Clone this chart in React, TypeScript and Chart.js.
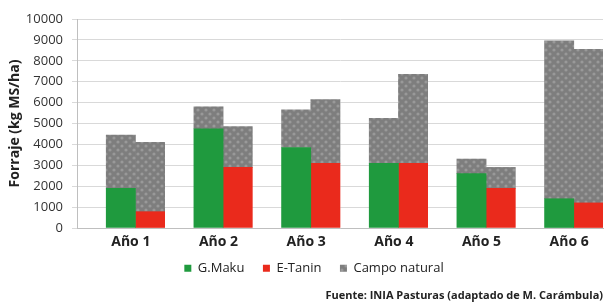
import React, { useEffect, useRef } from "react";
import { Chart, registerables } from "chart.js";

Chart.register(...registerables);

const categories = ["Año 1", "Año 2", "Año 3", "Año 4", "Año 5", "Año 6"];
const gMaku = [1900, 4750, 3850, 3100, 2600, 1400];
const gMakuTotal = [4450, 5800, 5650, 5250, 3300, 8950];
const eTanin = [780, 2900, 3100, 3100, 1900, 1200];
const eTaninTotal = [4100, 4850, 6150, 7350, 2900, 8550];
const campoA = gMakuTotal.map((t, i) => t - gMaku[i]);
const campoB = eTaninTotal.map((t, i) => t - eTanin[i]);
const emptySlot = [0, 0, 0, 0, 0, 0];
const yTicks = [0, 1000, 2000, 3000, 4000, 5000, 6000, 7000, 8000, 9000, 10000];

function makePattern(): CanvasPattern | string {
  const c = document.createElement("canvas");
  c.width = 8;
  c.height = 8;
  const ctx = c.getContext("2d");
  if (!ctx) return "#808080";
  ctx.fillStyle = "#7e7e7e";
  ctx.fillRect(0, 0, 8, 8);
  ctx.fillStyle = "#999999";
  ctx.beginPath();
  ctx.arc(2, 2, 1.6, 0, Math.PI * 2);
  ctx.fill();
  ctx.beginPath();
  ctx.arc(6, 6, 1.6, 0, Math.PI * 2);
  ctx.fill();
  const p = ctx.createPattern(c, "repeat");
  return p || "#808080";
}

const legendShift = {
  id: "legendShift",
  afterLayout(chart: any) {
    const lg = chart.legend;
    if (lg) {
      lg.left += 9;
      lg.right += 9;
    }
  },
};

export default function App() {
  const ref = useRef<HTMLCanvasElement>(null);
  useEffect(() => {
    document.body.style.margin = "0";
    if (!ref.current) return;
    const pattern = makePattern();
    const green = "#1f9a3e";
    const red = "#ea2a1c";
    const legendOrder = ["G.Maku", "E-Tanin", "Campo natural"];
    const chart = new Chart(ref.current, {
      type: "bar",
      plugins: [legendShift],
      data: {
        labels: categories,
        datasets: [
          { label: "_empty", data: emptySlot, backgroundColor: "rgba(0,0,0,0)", stack: "0" },
          { label: "G.Maku", data: gMaku, backgroundColor: green, stack: "a" },
          { label: "Campo natural", data: campoA, backgroundColor: pattern as any, stack: "a" },
          { label: "E-Tanin", data: eTanin, backgroundColor: red, stack: "b" },
          { label: "Campo natural B", data: campoB, backgroundColor: pattern as any, stack: "b" },
        ],
      },
      options: {
        animation: false,
        responsive: false,
        maintainAspectRatio: false,
        layout: { padding: { top: 19, right: 11, left: 7, bottom: 2 } },
        datasets: { bar: { barPercentage: 1, categoryPercentage: 1 } },
        scales: {
          x: {
            stacked: true,
            grid: { display: false, drawTicks: false, tickLength: 0 },
            border: { color: "#bfbfbf" },
            ticks: {
              color: "#222",
              font: { family: "Open Sans", size: 14, weight: "bold" },
              padding: 6,
              labelOffset: 10,
            },
          },
          y: {
            stacked: true,
            min: 0,
            max: 10000,
            afterBuildTicks: (axis: any) => {
              axis.ticks = yTicks.map((v) => ({ value: v }));
            },
            afterFit: (axis: any) => {
              axis.width = 70;
            },
            grid: { color: "#d9d9d9", tickLength: 5 },
            border: { color: "#bfbfbf" },
            ticks: {
              color: "#333",
              font: { family: "Open Sans", size: 13 },
              padding: 9,
              callback: (v: any) => String(v),
            },
            title: {
              display: true,
              text: "Forraje (kg MS/ha)",
              color: "#222",
              font: { family: "Open Sans", size: 14, weight: "bold" },
              padding: { top: 0, bottom: 2 },
            },
          },
        },
        plugins: {
          legend: {
            position: "bottom",
            labels: {
              boxWidth: 7,
              boxHeight: 7,
              padding: 5,
              color: "#222",
              font: { family: "Open Sans", size: 13 },
              generateLabels: (ch: any) => {
                const base = Chart.defaults.plugins.legend.labels.generateLabels(ch);
                return base
                  .filter((it: any) => legendOrder.indexOf(it.text) >= 0)
                  .sort((a: any, b: any) => legendOrder.indexOf(a.text) - legendOrder.indexOf(b.text))
                  .map((it: any) => ({
                    ...it,
                    text: it.text === "Campo natural" ? it.text : it.text + "    ",
                    lineWidth: 0,
                  }));
              },
            },
          },
          title: {
            display: true,
            position: "bottom",
            align: "end",
            text: "Fuente: INIA Pasturas (adaptado de M. Carámbula)",
            color: "#222",
            font: { family: "Open Sans", size: 11, weight: "bold" },
            padding: { top: 4, bottom: 0 },
          },
          tooltip: { enabled: false },
        },
      },
    });
    return () => chart.destroy();
  }, []);
  return (
    <div style={{ width: 614, height: 304 }}>
      <canvas ref={ref} width={614} height={304} style={{ display: "block" }} />
    </div>
  );
}
